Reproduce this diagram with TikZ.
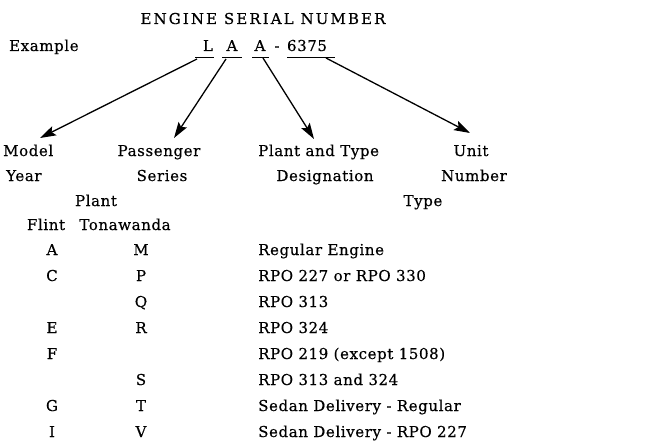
\documentclass[tikz,border=0pt]{standalone}
\usepackage{fontspec}
\setmainfont{DejaVu Serif}[LetterSpace=4, FakeBold=0.4]
\newfontfamily\titlefont{DejaVu Serif}[LetterSpace=14, FakeBold=0.4]
\usetikzlibrary{arrows.meta}
\begin{document}
\begin{tikzpicture}[x=1pt,y=-1pt,
  txt/.style={inner sep=0pt, font=\fontsize{15}{18}\selectfont},
  lft/.style={txt, anchor=base west},
  ctr/.style={txt, anchor=base},
  uline/.style={line width=1pt},
  pointer/.style={line width=1.3pt, -{Stealth[length=16pt,width=10pt,inset=3pt]}}]
\useasboundingbox (0,0) rectangle (655,441);
% title and example
\node[ctr, font=\titlefont\fontsize{15}{18}\selectfont] (title) at (263,24) {ENGINE SERIAL NUMBER};
\node[lft] (example) at (9,51) {Example};
\node[ctr] (cL) at (208,51) {L};
\node[ctr] (cA1) at (232,51) {A};
\node[ctr] (cA2) at (260,51) {A};
\node[ctr] (dash) at (277,51) {-};
\node[ctr] (unit) at (307,51) {6375};
% underlines
\coordinate (uL1) at (195,58); \coordinate (uL2) at (214,58);
\coordinate (uA1) at (222,58); \coordinate (uA2) at (242,58);
\coordinate (uB1) at (252,58); \coordinate (uB2) at (269,58);
\coordinate (uU1) at (287,58); \coordinate (uU2) at (335,58);
\draw[uline] (uL1) -- (uL2);
\draw[uline] (uA1) -- (uA2);
\draw[uline] (uB1) -- (uB2);
\draw[uline] (uU1) -- (uU2);
% arrow ends
\coordinate (sL) at (197,59); \coordinate (tL) at (40,138);
\coordinate (sA) at (226,59); \coordinate (tA) at (174,138);
\coordinate (sB) at (263,58); \coordinate (tB) at (314,139);
\coordinate (sU) at (326,58); \coordinate (tU) at (470,133);
\draw[pointer] (sL) -- (tL);
\draw[pointer] (sA) -- (tA);
\draw[pointer] (sB) -- (tB);
\draw[pointer] (sU) -- (tU);
% headings
\node[lft] (model) at (3,156) {Model};
\node[ctr] (pass) at (159,156) {Passenger};
\node[lft] (pat) at (258,156) {Plant and Type};
\node[ctr] (unitT) at (471,156) {Unit};
\node[lft] (year) at (6,181) {Year};
\node[ctr] (series) at (162,181) {Series};
\node[ctr] (desig) at (325,181) {Designation};
\node[ctr] (number) at (474,181) {Number};
\node[ctr] (plant) at (96,206) {Plant};
\node[ctr] (type) at (423,206) {Type};
\node[ctr] (flint) at (46,230) {Flint};
\node[ctr] (tona) at (125,230) {Tonawanda};
% rows
\node[ctr] (a1) at (52,255) {A};   \node[ctr] (b1) at (141,255) {M};   \node[lft] (c1) at (258,255) {Regular Engine};
\node[ctr] (a2) at (52,281) {C};   \node[ctr] (b2) at (141,281) {P};   \node[lft] (c2) at (258,281) {RPO 227 or RPO 330};
\node[ctr] (b3) at (141,307) {Q};  \node[lft] (c3) at (258,307) {RPO 313};
\node[ctr] (a4) at (52,333) {E};   \node[ctr] (b4) at (141,333) {R};   \node[lft] (c4) at (258,333) {RPO 324};
\node[ctr] (a5) at (52,359) {F};   \node[lft] (c5) at (258,359) {RPO 219 (except 1508)};
\node[ctr] (b6) at (141,385) {S};  \node[lft] (c6) at (258,385) {RPO 313 and 324};
\node[ctr] (a7) at (52,411) {G};   \node[ctr] (b7) at (141,411) {T};   \node[lft] (c7) at (258,411) {Sedan Delivery - Regular};
\node[ctr] (a8) at (52,437) {I};   \node[ctr] (b8) at (141,437) {V};   \node[lft] (c8) at (258,437) {Sedan Delivery - RPO 227};
\end{tikzpicture}
\end{document}
